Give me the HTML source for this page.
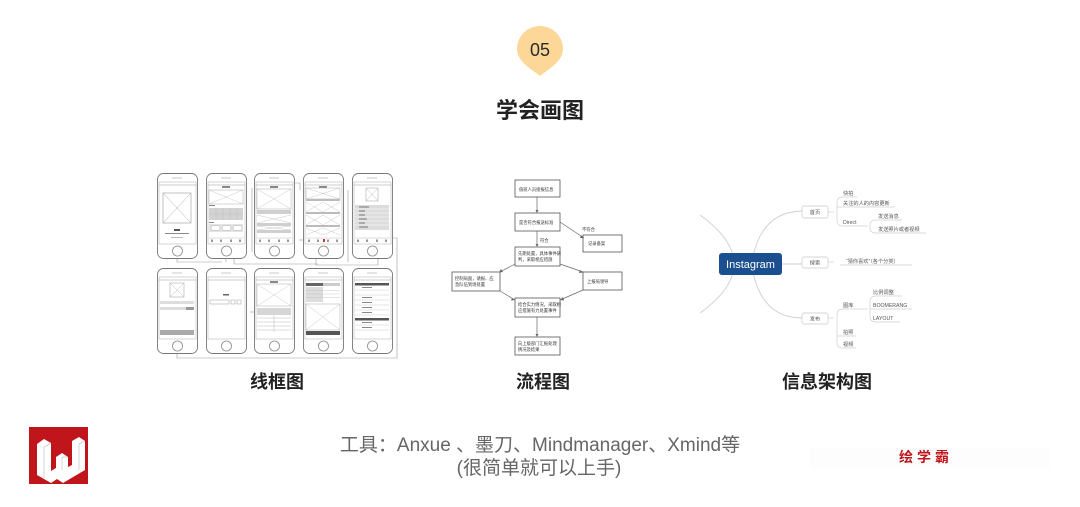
<!DOCTYPE html>
<html><head><meta charset="utf-8"><style>
html,body{margin:0;padding:0;background:#fff;}
body{width:1080px;height:507px;overflow:hidden;position:relative;}
svg{position:absolute;left:0;top:0;}
.cn{font-family:"Liberation Sans","Noto Sans CJK SC",sans-serif;}
</style></head><body>
<svg width="1080" height="507" viewBox="0 0 1080 507" xmlns="http://www.w3.org/2000/svg" class="cn">
<defs>
  <g id="frame">
    <rect x="0.5" y="0.5" width="40" height="85" rx="6" fill="#fff" stroke="#777" stroke-width="0.9"/>
    <line x1="15" y1="5" x2="25" y2="5" stroke="#bbb" stroke-width="0.8"/>
    <rect x="2" y="9" width="37" height="62" fill="none" stroke="#aaa" stroke-width="0.5"/>
    <line x1="2" y1="12" x2="39" y2="12" stroke="#999" stroke-width="0.6"/>
    <circle cx="20.5" cy="78" r="5" fill="none" stroke="#888" stroke-width="0.8"/>
  </g>
  <g id="tabs">
    <line x1="3" y1="65" x2="38" y2="65" stroke="#bbb" stroke-width="0.5"/>
    <rect x="5" y="66.5" width="2" height="2.5" fill="#999"/>
    <rect x="14" y="66.5" width="2" height="2.5" fill="#999"/>
    <rect x="24" y="66.5" width="2" height="2.5" fill="#999"/>
    <rect x="33" y="66.5" width="2" height="2.5" fill="#999"/>
  </g>
</defs>

<!-- Badge -->
<path d="M540,76 C533,70 517,62 517,49 A23,23 0 1 1 563,49 C563,62 547,70 540,76 Z" fill="#fcd797"/>
<text x="540" y="56" text-anchor="middle" font-size="18" fill="#2a2a2a" font-family="Liberation Sans, sans-serif">05</text>

<!-- Title -->
<text x="540" y="118" text-anchor="middle" font-size="22" font-weight="bold" fill="#222">学会画图</text>

<!-- ===== Wireframes ===== -->
<g fill="none" stroke="#999" stroke-width="0.6">
  <path d="M177,256 V262 H222"/>
  <path d="M234,222 V264 H318"/>
  <path d="M226,250 V262"/>
  <path d="M265,183 H300 V190"/>
  <path d="M252,188 V252"/>
  <path d="M299,240 H310"/>
  <path d="M316,203 V265 H378 V240"/>
  <path d="M348,190 V262"/>
  <path d="M380,238 H397 V358 H177 V352"/>
  <path d="M250,312 H260"/>
  <path d="M320,345 V352"/>
  <path d="M370,312 V316"/>
</g>

<!-- Row 1 -->
<g transform="translate(157,173)">
  <use href="#frame"/>
  <rect x="6" y="20" width="28" height="30" fill="none" stroke="#999" stroke-width="0.6"/>
  <path d="M6,20 L34,50 M34,20 L6,50" stroke="#aaa" stroke-width="0.5"/>
  <rect x="17" y="56" width="6" height="2" fill="#555"/>
  <rect x="8" y="60" width="24" height="1" fill="#888"/>
  <rect x="14" y="64" width="12" height="1" fill="#bbb"/>
</g>
<g transform="translate(206,173)">
  <use href="#frame"/>
  <rect x="16" y="13" width="8" height="2" fill="#888"/>
  <rect x="3" y="17" width="34" height="14" fill="none" stroke="#aaa" stroke-width="0.5"/>
  <path d="M3,17 L37,31 M37,17 L3,31" stroke="#bbb" stroke-width="0.4"/>
  <rect x="3" y="32" width="6" height="1" fill="#888"/>
  <rect x="3" y="35" width="34" height="12" fill="#d3d3d3"/>
  <path d="M3,41 H37 M10,35 V47 M17,35 V47 M24,35 V47 M31,35 V47" stroke="#bbb" stroke-width="0.4"/>
  <rect x="3" y="49" width="5" height="1" fill="#888"/>
  <rect x="3" y="51" width="34" height="8" fill="#e4e4e4"/>
  <rect x="5" y="52.5" width="9" height="5" rx="2" fill="#fff" stroke="#999" stroke-width="0.4"/>
  <rect x="16" y="52.5" width="9" height="5" rx="2" fill="#fff" stroke="#999" stroke-width="0.4"/>
  <rect x="27" y="52.5" width="9" height="5" rx="2" fill="#fff" stroke="#999" stroke-width="0.4"/>
  <use href="#tabs"/>
</g>
<g transform="translate(254,173)">
  <use href="#frame"/>
  <rect x="16" y="13" width="8" height="2" fill="#888"/>
  <rect x="3" y="16" width="34" height="20" fill="none" stroke="#aaa" stroke-width="0.5"/>
  <path d="M3,16 L37,36 M37,16 L3,36" stroke="#bbb" stroke-width="0.4"/>
  <rect x="3" y="37" width="34" height="4" fill="#cfcfcf"/>
  <path d="M3,42 L37,50 M37,42 L3,50" stroke="#bbb" stroke-width="0.4"/>
  <rect x="3" y="50" width="34" height="3" fill="#cfcfcf"/>
  <path d="M3,53 L37,57 M37,53 L3,57" stroke="#bbb" stroke-width="0.4"/>
  <rect x="3" y="57" width="34" height="3" fill="#cfcfcf"/>
  <use href="#tabs"/>
</g>
<g transform="translate(303,173)">
  <use href="#frame"/>
  <rect x="16" y="13" width="8" height="2" fill="#888"/>
  <rect x="3" y="15" width="34" height="11" fill="none" stroke="#aaa" stroke-width="0.5"/>
  <path d="M3,15 L37,26 M37,15 L3,26" stroke="#bbb" stroke-width="0.4"/>
  <rect x="3" y="26" width="34" height="2" fill="#bbb"/>
  <path d="M3,29 L20,39 M20,29 L3,39 M20,29 L37,39 M37,29 L20,39" stroke="#bbb" stroke-width="0.4"/>
  <rect x="3" y="39" width="34" height="2" fill="#bbb"/>
  <path d="M3,42 L20,52 M20,42 L3,52 M20,42 L37,52 M37,42 L20,52" stroke="#bbb" stroke-width="0.4"/>
  <rect x="3" y="52" width="34" height="2" fill="#bbb"/>
  <path d="M3,55 L20,62 M20,55 L3,62 M20,55 L37,62 M37,55 L20,62" stroke="#bbb" stroke-width="0.4"/>
  <rect x="20" y="66" width="2" height="3" fill="#c33"/>
  <use href="#tabs"/>
</g>
<g transform="translate(352,173)">
  <use href="#frame"/>
  <rect x="14" y="15" width="12" height="13" fill="none" stroke="#999" stroke-width="0.5"/>
  <path d="M14,15 L26,28 M26,15 L14,28" stroke="#aaa" stroke-width="0.4"/>
  <rect x="3" y="32" width="34" height="25" fill="#dcdcdc"/>
  <path d="M3,36 H37 M3,40 H37 M3,44 H37 M3,48 H37 M3,52 H37" stroke="#fff" stroke-width="0.5"/>
  <rect x="7" y="33.5" width="10" height="1" fill="#777"/>
  <rect x="7" y="37.5" width="6" height="1" fill="#777"/>
  <rect x="7" y="41.5" width="6" height="1" fill="#777"/>
  <rect x="7" y="45.5" width="8" height="1" fill="#777"/>
  <rect x="7" y="49.5" width="6" height="1" fill="#777"/>
  <rect x="7" y="53.5" width="9" height="1" fill="#777"/>
  <use href="#tabs"/>
</g>

<!-- Row 2 -->
<g transform="translate(157,268)">
  <use href="#frame"/>
  <rect x="13" y="15" width="14" height="14" fill="none" stroke="#999" stroke-width="0.5"/>
  <path d="M13,15 L27,29 M27,15 L13,29" stroke="#aaa" stroke-width="0.4"/>
  <rect x="3" y="33" width="34" height="3" fill="#ddd"/>
  <rect x="3" y="39" width="26" height="3" fill="#ddd"/>
  <rect x="29" y="39" width="8" height="3" fill="#999"/>
  <rect x="3" y="62" width="34" height="5" fill="#aaa"/>
</g>
<g transform="translate(206,268)">
  <use href="#frame"/>
  <rect x="17" y="26" width="6" height="1.5" fill="#666"/>
  <rect x="4" y="32" width="19" height="4" fill="none" stroke="#999" stroke-width="0.5"/>
  <rect x="25" y="32" width="4" height="4" fill="none" stroke="#999" stroke-width="0.5"/>
  <rect x="31" y="32" width="4" height="4" fill="none" stroke="#999" stroke-width="0.5"/>
</g>
<g transform="translate(254,268)">
  <use href="#frame"/>
  <rect x="16" y="13" width="8" height="2" fill="#888"/>
  <rect x="3" y="16" width="34" height="22" fill="none" stroke="#aaa" stroke-width="0.5"/>
  <path d="M3,16 L37,38 M37,16 L3,38" stroke="#bbb" stroke-width="0.4"/>
  <rect x="3" y="40" width="34" height="7" fill="#d6d6d6"/>
  <path d="M3,50 H37 M3,54 H37 M3,58 H37 M3,62 H37 M20,47 V64" stroke="#aaa" stroke-width="0.4"/>
</g>
<g transform="translate(303,268)">
  <use href="#frame"/>
  <rect x="3" y="15" width="17" height="3" fill="#666"/>
  <rect x="20" y="15" width="17" height="3" fill="#ccc"/>
  <rect x="3" y="19" width="17" height="15" fill="#ddd"/>
  <path d="M3,22.5 H37 M3,26 H37 M3,29.5 H37" stroke="#bbb" stroke-width="0.4"/>
  <rect x="3" y="36" width="34" height="26" fill="none" stroke="#aaa" stroke-width="0.5"/>
  <path d="M3,36 L37,62 M37,36 L3,62" stroke="#bbb" stroke-width="0.4"/>
  <rect x="3" y="63" width="34" height="4" fill="#555"/>
</g>
<g transform="translate(352,268)">
  <use href="#frame"/>
  <rect x="3" y="15" width="34" height="2.5" fill="#555"/>
  <path d="M3,22 H37 M3,27 H37 M3,32 H37 M3,37 H37 M3,42 H37 M3,47 H37 M3,57 H37 M3,62 H37" stroke="#bbb" stroke-width="0.4"/>
  <rect x="10" y="19" width="10" height="1" fill="#888"/>
  <rect x="10" y="29" width="10" height="1" fill="#888"/>
  <rect x="10" y="34" width="10" height="1" fill="#888"/>
  <rect x="10" y="39" width="10" height="1" fill="#888"/>
  <rect x="10" y="44" width="10" height="1" fill="#888"/>
  <rect x="3" y="50" width="34" height="2.5" fill="#555"/>
  <rect x="10" y="54" width="10" height="1" fill="#888"/>
  <rect x="10" y="59" width="10" height="1" fill="#888"/>
</g>

<!-- ===== Flowchart ===== -->
<g fill="#fff" stroke="#555" stroke-width="0.8">
  <rect x="515" y="180" width="45" height="17"/>
  <rect x="515" y="213" width="45" height="18"/>
  <rect x="583" y="235" width="39" height="17"/>
  <rect x="515" y="247" width="45" height="19"/>
  <rect x="452" y="272" width="48" height="19"/>
  <rect x="583" y="272" width="39" height="18"/>
  <rect x="515" y="298" width="45" height="19"/>
  <rect x="515" y="337" width="45" height="18"/>
</g>
<g fill="none" stroke="#666" stroke-width="0.7">
  <path d="M537,197 V212"/>
  <path d="M560,222 L584,238"/>
  <path d="M537,231 V246"/>
  <path d="M515,264 L500,272"/>
  <path d="M560,264 L583,272"/>
  <path d="M500,291 L515,300"/>
  <path d="M583,290 L560,300"/>
  <path d="M537,317 V336"/>
</g>
<g fill="#666">
  <path d="M535.5,210 L538.5,210 L537,213 Z"/>
  <path d="M535.5,244 L538.5,244 L537,247 Z"/>
  <path d="M535.5,334 L538.5,334 L537,337 Z"/>
  <path d="M581,235 L584,238 L580,238 Z"/>
  <path d="M501,269 L499,272.5 L503,272 Z"/>
  <path d="M580,270 L583,272.5 L579,273 Z"/>
  <path d="M512,298 L515,300 L511,300.5 Z"/>
  <path d="M563,297 L560,300 L564,300.5 Z"/>
</g>
<g font-size="4.3" fill="#333">
  <text x="519" y="191">值班人员接报信息</text>
  <text x="519" y="224">是否符合报送标准</text>
  <text x="582" y="231">不符合</text>
  <text x="588" y="245">记录备案</text>
  <text x="540" y="242">符合</text>
  <text x="518" y="255">先期处置，具体事件研</text>
  <text x="518" y="261">判，采取相应措施</text>
  <text x="455" y="280">控制局面，请报、应</text>
  <text x="455" y="286">急队伍到场处置</text>
  <text x="587" y="283">上报局领导</text>
  <text x="518" y="306">结合实力情况，采取相</text>
  <text x="518" y="312">应措施有力处置事件</text>
  <text x="518" y="345">向上级部门汇报处理</text>
  <text x="518" y="351">情况及结果</text>
</g>

<!-- ===== Mind map ===== -->
<g fill="none" stroke="#cfcfcf" stroke-width="0.9">
  <path d="M700,215 Q768,264 700,313"/>
  <path d="M752,262 Q760,212 802,211"/>
  <path d="M752,266 Q760,318 802,318"/>
  <path d="M782,264 H802"/>
</g>
<rect x="719" y="253" width="63" height="22" rx="3" fill="#1c4f8f"/>
<text x="750.5" y="268" text-anchor="middle" font-size="11" fill="#fff" font-family="Liberation Sans, sans-serif">Instagram</text>

<g fill="#fff" stroke="#c8c8c8" stroke-width="0.7">
  <rect x="802" y="206" width="26" height="12" rx="2"/>
  <rect x="802" y="257" width="26" height="11" rx="2"/>
  <rect x="802" y="313" width="26" height="11" rx="2"/>
</g>
<g fill="none" stroke="#cfcfcf" stroke-width="0.7">
  <path d="M828,212 H834"/>
  <path d="M843,197 Q837,197 837,203 V220 Q837,226 843,226"/>
  <path d="M837,207 H895 M843,197 H857 M843,226 H864"/>
  <path d="M864,226 H868"/>
  <path d="M876,220 Q870,220 870,225 V228 Q870,233 876,233"/>
  <path d="M876,220 H902 M876,233 H926"/>
  <path d="M828,262 H834"/>
  <path d="M840,265 H912"/>
  <path d="M828,318 H834"/>
  <path d="M843,309 Q837,309 837,315 V343 Q837,348 843,348"/>
  <path d="M843,309 H862 M837,336 H856 M843,348 H856"/>
  <path d="M862,309 H868"/>
  <path d="M876,296 Q870,296 870,302 V316 Q870,322 876,322"/>
  <path d="M870,309 H912 M876,296 H902 M876,322 H900"/>
</g>
<g font-size="5.2" fill="#555">
  <text x="815" y="214" text-anchor="middle">首页</text>
  <text x="815" y="264.5" text-anchor="middle">搜索</text>
  <text x="815" y="320.5" text-anchor="middle">发布</text>
  <text x="843" y="195">快拍</text>
  <text x="843" y="205">关注的人的内容更新</text>
  <text x="843" y="224" font-family="Liberation Sans, sans-serif">Direct</text>
  <text x="878" y="218">发送消息</text>
  <text x="878" y="231">发送照片或者视频</text>
  <text x="846" y="263">“猜你喜欢”（各个分类）</text>
  <text x="843" y="307">图库</text>
  <text x="843" y="334">拍照</text>
  <text x="843" y="346">视频</text>
  <text x="873" y="294">比例调整</text>
  <text x="873" y="307" font-family="Liberation Sans, sans-serif">BOOMERANG</text>
  <text x="873" y="320" font-family="Liberation Sans, sans-serif">LAYOUT</text>
</g>

<!-- Section labels -->
<g font-size="18" font-weight="bold" fill="#222" text-anchor="middle">
  <text x="277" y="388">线框图</text>
  <text x="543" y="388">流程图</text>
  <text x="827" y="388">信息架构图</text>
</g>

<!-- Logo -->
<rect x="29" y="427" width="59" height="57" fill="#c0151b"/>
<path d="M37,444 L44,439 L51,443 L51,471 L56,468 L56,457 L62,453 L68,457 L68,467 L72,465 L72,441 L79,437 L85,441 L85,470 L63,483 L57,479 L51,483 L37,475 Z" fill="#fff"/>
<path d="M44,447 V478 M62,457 V470 M79,444 V470 M44,447 L51,443 M62,457 L68,457 M79,444 L85,441" stroke="#c9c9c9" stroke-width="0.8" fill="none"/>

<!-- Tools text -->
<g font-size="19" fill="#666" text-anchor="middle">
  <text x="540" y="451">工具：Anxue 、墨刀、Mindmanager、Xmind等</text>
  <text x="539" y="474">(很简单就可以上手)</text>
</g>

<!-- Watermark -->
<rect x="810" y="447" width="240" height="21" fill="#fdfdfd"/>
<text x="926" y="462" text-anchor="middle" font-size="14" font-weight="bold" fill="#c0151b" letter-spacing="4">绘学霸</text>
</svg>
</body></html>
